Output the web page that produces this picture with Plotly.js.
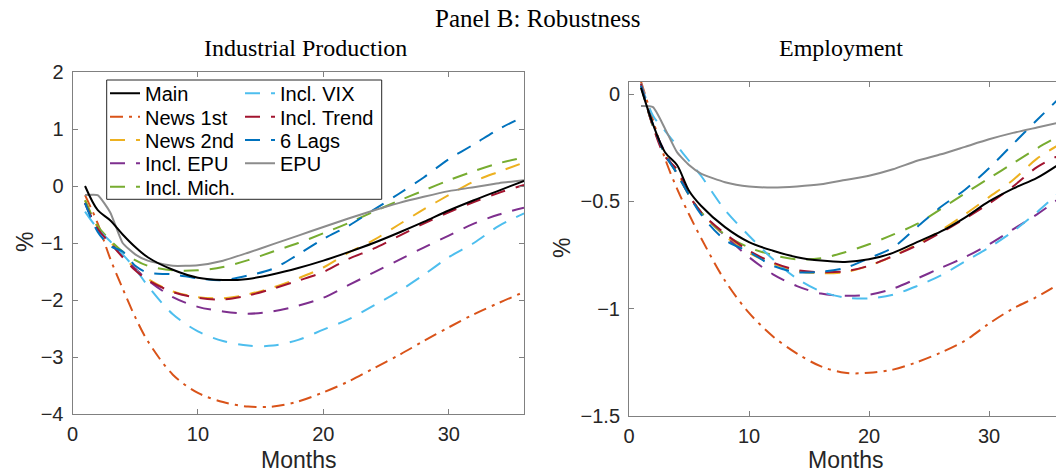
<!DOCTYPE html>
<html>
<head>
<meta charset="utf-8">
<script src="https://cdn.plot.ly/plotly-3.0.1.min.js"></script>
<style>
html,body{margin:0;padding:0;overflow:hidden;background:#fff;width:1056px;height:474px;}
#chart{width:1100px;height:474px;}
</style>
</head>
<body>
<div id="chart"></div>
<script>
// ---- data ----
const months = [1,2,3,4,5,6,8,10,12,14,16,18,20,22,24,26,28,30,32,34,36];
const seriesNames = ['Main','News 1st','News 2nd','Incl. EPU','Incl. Mich.','Incl. VIX','Incl. Trend','6 Lags','EPU'];

// Industrial Production (%)
const ipMain    = [0, -0.42, -0.6, -0.85, -1.07, -1.25, -1.47, -1.61, -1.65, -1.63, -1.55, -1.44, -1.31, -1.16, -1.0, -0.82, -0.63, -0.43, -0.25, -0.08, 0.09];
const ipNews1   = [-0.16, -0.65, -1.27, -1.8, -2.3, -2.72, -3.31, -3.63, -3.79, -3.87, -3.87, -3.78, -3.62, -3.43, -3.2, -2.97, -2.72, -2.48, -2.25, -2.05, -1.86];
const ipNews2   = [-0.25, -0.72, -0.98, -1.22, -1.45, -1.63, -1.85, -1.95, -1.97, -1.9, -1.78, -1.62, -1.43, -1.17, -0.95, -0.68, -0.41, -0.16, 0.08, 0.25, 0.41];
const ipInclEPU = [-0.3, -0.75, -1.0, -1.22, -1.45, -1.65, -1.95, -2.12, -2.2, -2.24, -2.2, -2.1, -1.96, -1.74, -1.52, -1.3, -1.08, -0.87, -0.66, -0.5, -0.38];
const ipMich    = [-0.25, -0.7, -0.95, -1.15, -1.3, -1.4, -1.48, -1.48, -1.42, -1.3, -1.15, -1.0, -0.83, -0.65, -0.45, -0.26, -0.08, 0.1, 0.26, 0.4, 0.5];
const ipVIX     = [-0.45, -0.75, -0.97, -1.2, -1.45, -1.75, -2.25, -2.55, -2.72, -2.8, -2.8, -2.7, -2.52, -2.34, -2.1, -1.85, -1.56, -1.25, -1.0, -0.7, -0.48];
const ipTrend   = [-0.3, -0.75, -1.0, -1.25, -1.48, -1.65, -1.86, -1.96, -1.99, -1.92, -1.8, -1.66, -1.51, -1.28, -1.1, -0.88, -0.66, -0.46, -0.28, -0.12, 0.02];
const ip6Lags   = [-0.3, -0.8, -1.05, -1.15, -1.4, -1.52, -1.55, -1.62, -1.65, -1.57, -1.45, -1.2, -0.93, -0.7, -0.42, -0.14, 0.15, 0.47, 0.73, 1.0, 1.22];
const ipEPU     = [-0.16, -0.16, -0.46, -1.0, -1.2, -1.31, -1.4, -1.39, -1.31, -1.17, -1.02, -0.87, -0.72, -0.57, -0.43, -0.3, -0.19, -0.09, -0.02, 0.05, 0.1];

// Employment (%)
const emMain    = [0.03, -0.14, -0.27, -0.33, -0.45, -0.52, -0.62, -0.69, -0.73, -0.76, -0.776, -0.782, -0.77, -0.74, -0.69, -0.64, -0.575, -0.5, -0.44, -0.39, -0.32];
const emNews1   = [0.06, -0.12, -0.3, -0.44, -0.56, -0.67, -0.87, -1.02, -1.13, -1.21, -1.27, -1.3, -1.3, -1.285, -1.25, -1.205, -1.15, -1.07, -1.0, -0.945, -0.88];
const emNews2   = [0.05, -0.15, -0.28, -0.36, -0.47, -0.55, -0.66, -0.74, -0.79, -0.825, -0.835, -0.83, -0.8, -0.755, -0.7, -0.635, -0.56, -0.48, -0.4, -0.3, -0.23];
const emInclEPU = [0.04, -0.15, -0.27, -0.37, -0.47, -0.55, -0.66, -0.76, -0.84, -0.895, -0.93, -0.94, -0.935, -0.907, -0.86, -0.81, -0.76, -0.7, -0.63, -0.56, -0.48];
const emMich    = [0.04, -0.15, -0.28, -0.37, -0.47, -0.55, -0.655, -0.715, -0.75, -0.77, -0.765, -0.737, -0.7, -0.655, -0.605, -0.535, -0.462, -0.392, -0.322, -0.252, -0.19];
const emVIX     = [0.05, -0.1, -0.17, -0.24, -0.31, -0.38, -0.54, -0.66, -0.77, -0.86, -0.92, -0.948, -0.952, -0.935, -0.895, -0.845, -0.78, -0.715, -0.64, -0.55, -0.45];
const emTrend   = [0.05, -0.15, -0.29, -0.35, -0.47, -0.55, -0.65, -0.73, -0.785, -0.82, -0.83, -0.826, -0.8, -0.755, -0.705, -0.645, -0.58, -0.51, -0.43, -0.34, -0.28];
const em6Lags   = [0.04, -0.14, -0.28, -0.37, -0.47, -0.56, -0.68, -0.735, -0.8, -0.83, -0.828, -0.81, -0.765, -0.715, -0.62, -0.525, -0.445, -0.345, -0.232, -0.12, -0.01];
const emEPU     = [-0.055, -0.06, -0.16, -0.27, -0.33, -0.37, -0.41, -0.43, -0.435, -0.43, -0.42, -0.4, -0.38, -0.35, -0.31, -0.28, -0.245, -0.21, -0.18, -0.155, -0.13];

const xTicks = [0, 10, 20, 30];
const ipYTicks = [-4, -3, -2, -1, 0, 1, 2];
const emYTicks = [-1.5, -1, -0.5, 0];
const emYTickText = ['\u22121.5', '\u22121', '\u22120.5', '0'];

// ---- styles ----
const colors = ['#000000','#D95319','#EDB120','#7E2F8E','#77AC30','#4DBEEE','#A2142F','#0072BD','#8C8C8C'];
const DASH = '15px,11px';
const dashes = ['solid','13px,6px,3px,6px',DASH,DASH,DASH,DASH,DASH,DASH,'solid'];
const smooth = [0.9,0.9,0.9,0.9,0.9,0.9,0.9,0.9,0.5];

const ipData = [ipMain, ipNews1, ipNews2, ipInclEPU, ipMich, ipVIX, ipTrend, ip6Lags, ipEPU];
const emData = [emMain, emNews1, emNews2, emInclEPU, emMich, emVIX, emTrend, em6Lags, emEPU];

const W = 1100, H = 474;
const drawOrder = [1,2,3,4,5,6,7,8,0];
const legendIds = ['legend','legend2','legend3','legend4','legend5','legend6','legend7','legend8','legend9'];

const traces = [];
drawOrder.forEach(i => {
  traces.push({
    x: months, y: ipData[i], name: seriesNames[i], type: 'scatter', mode: 'lines',
    line: {color: colors[i], width: 2, dash: dashes[i], shape: 'spline', smoothing: smooth[i]},
    xaxis: 'x', yaxis: 'y', legend: legendIds[i], showlegend: true, hoverinfo: 'x+y+name'
  });
});
drawOrder.forEach(i => {
  traces.push({
    x: months, y: emData[i], name: seriesNames[i], type: 'scatter', mode: 'lines',
    line: {color: colors[i], width: 2, dash: dashes[i], shape: 'spline', smoothing: smooth[i]},
    xaxis: 'x2', yaxis: 'y2', showlegend: false, hoverinfo: 'x+y+name'
  });
});

const tickFont = {family: 'Liberation Sans, Arial, sans-serif', size: 20, color: '#262626'};
const titleFont = {family: 'Liberation Sans, Arial, sans-serif', size: 23, color: '#262626'};
const serifFont = {family: 'Liberation Serif, Times New Roman, serif', size: 24, color: '#000'};
const axisCommon = {
  ticks: 'inside', ticklen: 5, tickwidth: 1, tickcolor: '#808080',
  showline: true, linecolor: '#808080', linewidth: 1, mirror: 'ticks',
  showgrid: false, zeroline: false, tickfont: tickFont, fixedrange: true
};

function label(text, xpx, ypx, font, angle, yanchor) {
  return {text: text, x: xpx / W, y: (H - ypx) / H, xref: 'paper', yref: 'paper',
          xanchor: 'center', yanchor: yanchor || 'middle', showarrow: false, font: font,
          textangle: angle || 0, borderpad: 0};
}

const layout = {
  width: W, height: H,
  margin: {l: 0, r: 0, t: 0, b: 0},
  paper_bgcolor: '#ffffff', plot_bgcolor: '#ffffff',
  showlegend: true,
  xaxis: Object.assign({}, axisCommon, {
    domain: [72.5 / W, 524 / W], range: [0, 36], tickvals: xTicks, anchor: 'y',
    ticklabelstandoff: 2
  }),
  yaxis: Object.assign({}, axisCommon, {
    domain: [(H - 414) / H, (H - 72) / H], range: [-4, 2], tickvals: ipYTicks, anchor: 'x',
    ticklabelstandoff: 4
  }),
  xaxis2: Object.assign({}, axisCommon, {
    domain: [629 / W, 1061 / W], range: [0, 36], tickvals: xTicks, anchor: 'y2',
    ticklabelstandoff: 2
  }),
  yaxis2: Object.assign({}, axisCommon, {
    domain: [(H - 415.7) / H, (H - 81.7) / H], range: [-1.5, 0.059], tickvals: emYTicks, ticktext: emYTickText, anchor: 'x2',
    ticklabelstandoff: 4
  }),
  annotations: [
    label('Panel B: Robustness', 538, 19, Object.assign({}, serifFont, {size: 25})),
    label('Industrial Production', 305, 48, serifFont),
    label('Employment', 841, 48, serifFont),
    label('Months', 298, 474, titleFont, 0, 'bottom'),
    label('Months', 845, 474, titleFont, 0, 'bottom'),
    label('%', 25, 242, titleFont, -90),
    label('%', 562, 248, titleFont, -90)
  ],
  shapes: [
    {type: 'rect', xref: 'paper', yref: 'paper', layer: 'above',
     x0: 106.7 / W, x1: 381.7 / W, y0: (H - 199.3) / H, y1: (H - 80) / H,
     line: {color: '#262626', width: 1}, fillcolor: '#ffffff'}
  ]
};

// one small legend per entry, laid out in two columns like the original
const legendFont = {family: 'Liberation Sans, Arial, sans-serif', size: 20, color: '#000'};
const colX = [105, 240];
const rowY = [93.3, 116.7, 140, 163.3, 186.7];
const legendSlots = [[0,0],[0,1],[0,2],[0,3],[0,4],[1,0],[1,1],[1,2],[1,3]];
legendIds.forEach((id, i) => {
  const s = legendSlots[i];
  layout[id] = {
    x: colX[s[0]] / W, y: (H - rowY[s[1]]) / H, xref: 'paper', yref: 'paper',
    xanchor: 'left', yanchor: 'middle', bgcolor: 'rgba(0,0,0,0)', borderwidth: 0,
    font: legendFont, itemclick: false, itemdoubleclick: false
  };
});

Plotly.newPlot('chart', traces, layout, {displayModeBar: false, staticPlot: true});
</script>
</body>
</html>
